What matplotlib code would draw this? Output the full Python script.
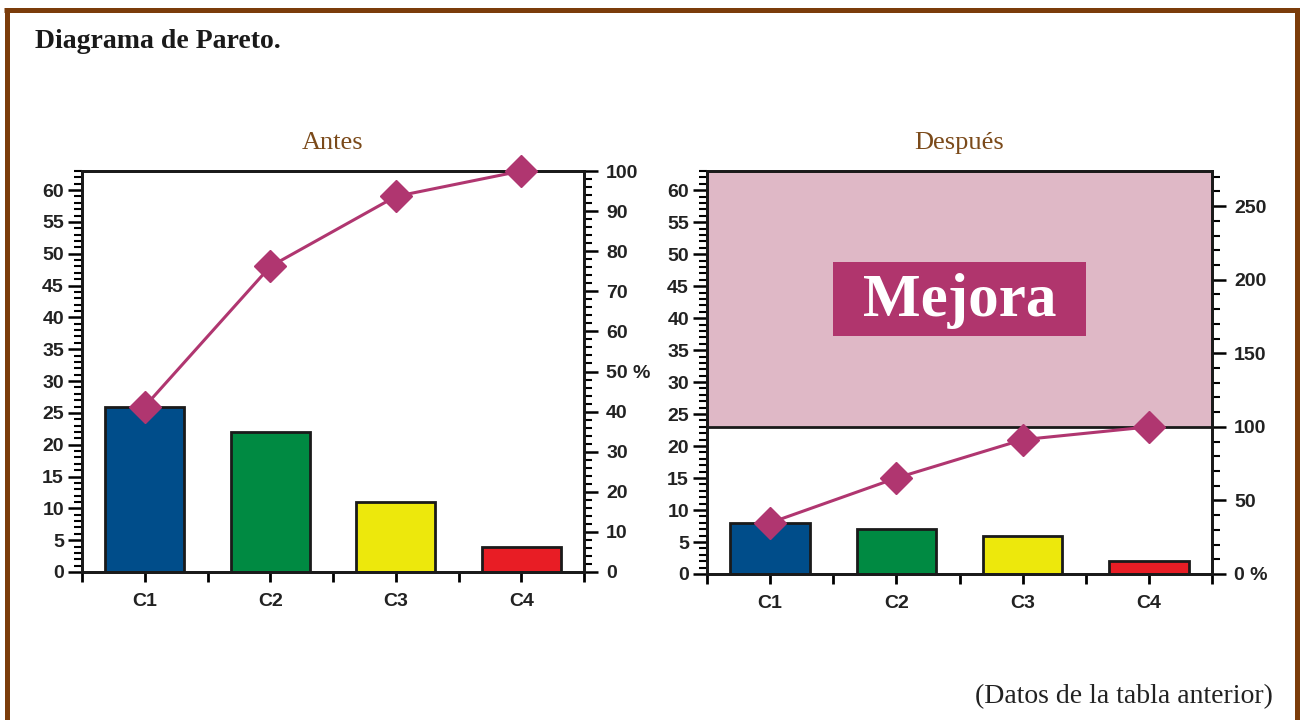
import numpy as np
import matplotlib
matplotlib.use("Agg")
import matplotlib.pyplot as plt
from matplotlib.ticker import MultipleLocator, FuncFormatter
from matplotlib.patches import Rectangle
from matplotlib.lines import Line2D

# datos (tabla anterior)
categorias = ["C1", "C2", "C3", "C4"]
antes = [26, 22, 11, 4]
despues = [8, 7, 6, 2]
colores = ["#004d8a", "#008a42", "#ede80c", "#e81d25"]

c_linea = "#b03670"
c_rosa = "#dfb8c6"
c_marron = "#7b4a1a"
c_borde = "#7b3c0a"
f_ticks = ["Liberation Sans Narrow", "Liberation Sans", "DejaVu Sans"]
f_serif = ["Liberation Serif", "DejaVu Serif"]

fig = plt.figure(figsize=(13.01, 7.2), dpi=100)
fig.patch.set_facecolor("white")


def pareto(pos, valores, titulo, total_izq, may_der, min_der, etiqueta_pct):
    x = np.arange(len(valores))
    total = sum(valores)
    acum = np.cumsum(valores) / total * 100

    ax = fig.add_axes(pos)
    ax.bar(x, valores, width=0.63, color=colores, edgecolor="#1a1a1a",
           linewidth=2, zorder=3)
    ax.set_xlim(-0.5, len(valores) - 0.5)
    ax.set_ylim(0, total_izq)

    ax.set_xticks(x)
    ax.set_xticklabels(categorias)
    ax.set_xticks(np.arange(-0.5, len(valores)), minor=True)
    ax.yaxis.set_major_locator(MultipleLocator(5))
    ax.yaxis.set_minor_locator(MultipleLocator(1))
    ax.tick_params(axis="x", which="both", direction="out", length=7,
                   width=2, pad=8)
    ax.tick_params(axis="y", which="major", direction="out", length=10,
                   width=1.8, pad=3)
    ax.tick_params(axis="y", which="minor", direction="out", length=6,
                   width=1.5)
    for lab in ax.get_xticklabels() + ax.get_yticklabels():
        lab.set_family(f_ticks)
        lab.set_weight("bold")
        lab.set_fontsize(14)
        lab.set_color("#222222")
    for s in ax.spines.values():
        s.set_linewidth(2)
        s.set_color("#1a1a1a")

    ax2 = ax.twinx()
    ax2.set_ylim(0, total_izq / total * 100)
    ax2.yaxis.set_major_locator(MultipleLocator(may_der))
    ax2.yaxis.set_minor_locator(MultipleLocator(min_der))
    ax2.yaxis.set_major_formatter(FuncFormatter(
        lambda v, p: f"{v:.0f} %" if round(v) == etiqueta_pct else f"{v:.0f}"))
    ax2.tick_params(axis="y", which="major", direction="out", length=10,
                    width=1.8, pad=6)
    ax2.tick_params(axis="y", which="minor", direction="out", length=6,
                    width=1.5)
    for lab in ax2.get_yticklabels():
        lab.set_family(f_ticks)
        lab.set_weight("bold")
        lab.set_fontsize(14)
        lab.set_color("#222222")
    for s in ax2.spines.values():
        s.set_linewidth(2)
        s.set_color("#1a1a1a")
    ax2.plot(x, acum, color=c_linea, linewidth=2.2, marker="D",
             markersize=16, markerfacecolor=c_linea, markeredgecolor=c_linea,
             clip_on=False, zorder=5)

    ax.set_title(titulo, color=c_marron, fontsize=19, family=f_serif, pad=16)
    return ax, ax2


# Antes
ax_a, ax_a2 = pareto([82 / 1301, 148 / 720, 502 / 1301, 401 / 720],
                     antes, "Antes", sum(antes), 10, 2, 50)

# Despues
ax_d, ax_d2 = pareto([707 / 1301, 146 / 720, 505 / 1301, 403 / 720],
                     despues, "Después", sum(antes), 50, 10, 0)
ax_d.axhspan(sum(despues), sum(antes), color=c_rosa, zorder=0)
ax_d.axhline(sum(despues), color="#1a1a1a", linewidth=2, zorder=2)
ax_d.add_patch(Rectangle((0.5, 37.2), 2, 11.6, facecolor="#b0356d",
                         edgecolor="none", zorder=4))
ax_d.text(1.5, 42.6, "Mejora", color="white", fontsize=44, weight="bold",
          family=f_serif, ha="center", va="center", zorder=5)

# textos y marco
fig.text(35 / 1301, 1 - 42 / 720, "Diagrama de Pareto.", fontsize=20,
         weight="bold", family=f_serif, color="#1a1a1a", va="center")
fig.text(1273 / 1301, 1 - 697 / 720, "(Datos de la tabla anterior)",
         fontsize=20, family=f_serif, color="#222222", ha="right", va="center")

lw_borde = 3.6
fig.add_artist(Line2D([6.5 / 1301, 6.5 / 1301], [-0.1, 1 - 10 / 720],
                      color=c_borde, linewidth=lw_borde,
                      transform=fig.transFigure))
fig.add_artist(Line2D([1297 / 1301, 1297 / 1301], [-0.1, 1 - 10 / 720],
                      color=c_borde, linewidth=lw_borde,
                      transform=fig.transFigure))
fig.add_artist(Line2D([4 / 1301, 1299 / 1301], [1 - 10 / 720, 1 - 10 / 720],
                      color=c_borde, linewidth=lw_borde,
                      transform=fig.transFigure, solid_capstyle="butt"))

fig.savefig("out.png", dpi=100)
